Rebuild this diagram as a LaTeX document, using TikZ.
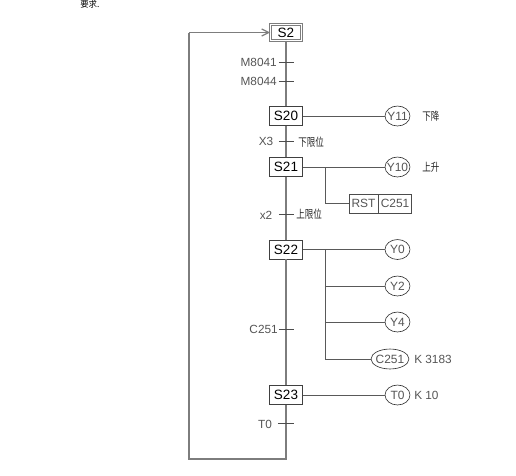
\documentclass[tikz,border=0pt]{standalone}
\usepackage{fontspec}
\setmainfont{Liberation Sans}
\newfontfamily\cjk{Noto Sans CJK SC}
\usepackage{xcolor}
\usetikzlibrary{positioning,calc,arrows.meta,shapes.geometric}
\definecolor{linegray}{RGB}{125,125,125}
\definecolor{textgray}{RGB}{85,85,85}
\newcommand{\narrowcjk}[1]{\scalebox{0.76}[1]{#1}}
\newcommand{\coiltext}[1]{\makebox[0pt]{#1}}
\tikzset{
  stepbox/.style={draw=black!75, line width=0.5pt, fill=white, minimum width=24.5mm*0.34, minimum height=13.5pt, inner sep=0pt, text=black, font=\fontsize{9.6}{10}\selectfont},
  coil/.style={ellipse, draw=black!80, line width=0.45pt, fill=white, minimum width=25*0.709pt, minimum height=20*0.709pt, inner sep=0pt, text=textgray, font=\fontsize{8.5}{10}\selectfont},
  resetbox/.style={draw=black!70, line width=0.45pt, fill=white, minimum height=19*0.709pt, inner sep=0pt, text=textgray, font=\fontsize{8.5}{10}\selectfont},
  lbl/.style={inner sep=0pt, text=textgray, font=\fontsize{8.4}{10}\selectfont},
  cjklbl/.style={inner sep=0pt, text=black!85, font=\cjk\fontsize{8}{9}\selectfont},
  rail/.style={draw=linegray, line width=0.9pt},
  wire/.style={draw=black!65, line width=0.6pt},
  tick/.style={draw=black!70, line width=0.5pt}
}
\begin{document}
\begin{tikzpicture}[x=0.025cm, y=-0.025cm]
  \useasboundingbox (0, 0) rectangle (516, 476);

  % steps
  \node[stepbox, draw=linegray, double, double distance=0.7pt, minimum width=31*0.709pt, minimum height=16*0.709pt] (s2) at (286, 32.5) {S2};
  \node[stepbox] (s20) at (286, 116) {S20};
  \node[stepbox] (s21) at (286, 167) {S21};
  \node[stepbox] (s22) at (286, 249.5) {S22};
  \node[stepbox] (s23) at (286, 395) {S23};

  % transitions
  \coordinate (m1) at (286, 62);
  \coordinate (m2) at (286, 81);
  \coordinate (x3) at (286, 141);
  \coordinate (x2) at (286, 214);
  \coordinate (c1) at (286, 329);
  \coordinate (t1) at (286, 423);
  \coordinate (bot) at (286, 459);
  \coordinate (left) at (189, 459);
  \coordinate (top) at (189, 32.5);

  \draw[rail] (s2) -- (s20);
  \draw[rail] (s20) -- (s21);
  \draw[rail] (s21) -- (s22);
  \draw[rail] (s22) -- (s23);
  \draw[rail] (s23) -- (bot) -- (left) -- (top);
  \draw[rail, -{Straight Barb[length=5pt, width=5pt]}] (top) -- (s2.west);

  \draw[tick] ($(m1)+(-7, 0)$) -- ($(m1)+(8, 0)$);
  \draw[tick] ($(m2)+(-7, 0)$) -- ($(m2)+(8, 0)$);
  \draw[tick] ($(x3)+(-7, 0)$) -- ($(x3)+(8, 0)$);
  \draw[tick] ($(x2)+(-7, 0)$) -- ($(x2)+(8, 0)$);
  \draw[tick] ($(c1)+(-7, 0)$) -- ($(c1)+(8, 0)$);
  \draw[tick] ($(t1)+(-8, 0)$) -- ($(t1)+(8, 0)$);

  \node[lbl, anchor=east] (lm1) at (277, 62) {M8041};
  \node[lbl, anchor=east] (lm2) at (277, 81) {M8044};
  \node[lbl] (lx3) at (266, 141.5) {X3};
  \node[lbl] (lx2) at (266, 215) {x2};
  \node[lbl, anchor=east] (lc1) at (278, 329) {C251};
  \node[lbl] (lt1) at (265, 424) {T0};
  \node[cjklbl, anchor=west] (nx3) at (298, 142) {\narrowcjk{下限位}};
  \node[cjklbl, anchor=west] (nx2) at (296, 214) {\narrowcjk{上限位}};

  % outputs
  \node[coil] (y11) at (397.5, 116) {\coiltext{Y11}};
  \node[coil] (y10) at (397.5, 167) {\coiltext{Y10}};
  \node[coil] (y0) at (397.5, 249.5) {\coiltext{Y0}};
  \node[coil] (y2) at (397.5, 286) {\coiltext{Y2}};
  \node[coil] (y4) at (397.5, 322) {\coiltext{Y4}};
  \node[coil, minimum width=38*0.709pt] (c251) at (390, 359) {\coiltext{C251}};
  \node[coil] (t0) at (397.5, 395) {\coiltext{T0}};

  \node[resetbox, minimum width=29*0.709pt] (rst) at (363.5, 203.5) {RST};
  \node[resetbox, minimum width=33*0.709pt, right=0pt of rst] (c251r) {C251};

  \coordinate (b1) at (325, 167);
  \coordinate (b2) at (325, 203.5);
  \coordinate (b3) at (325, 249.5);
  \coordinate (b4) at (325, 286);
  \coordinate (b5) at (325, 322);
  \coordinate (b6) at (325, 359);

  \draw[wire] (s20.east) -- (y11.west);
  \draw[wire] (s21.east) -- (y10.west);
  \draw[wire] (b1) -- (b2) -- (rst.west);
  \draw[wire] (s22.east) -- (y0.west);
  \draw[wire] (b3) -- (b6) -- (c251.west);
  \draw[wire] (b4) -- (y2.west);
  \draw[wire] (b5) -- (y4.west);
  \draw[wire] (s23.east) -- (t0.west);

  \node[cjklbl, anchor=west] (n11) at (422, 116) {\narrowcjk{下降}};
  \node[cjklbl, anchor=west] (n10) at (422, 167) {\narrowcjk{上升}};
  \node[lbl, anchor=west] (k1) at (414, 359.5) {K 3183};
  \node[lbl, anchor=west] (k2) at (414, 395.5) {K 10};

  \node[inner sep=0pt, anchor=west, text=black, font=\cjk\fontsize{6}{7}\selectfont] (hd) at (80, 4.6) {要求.};
\end{tikzpicture}
\end{document}
